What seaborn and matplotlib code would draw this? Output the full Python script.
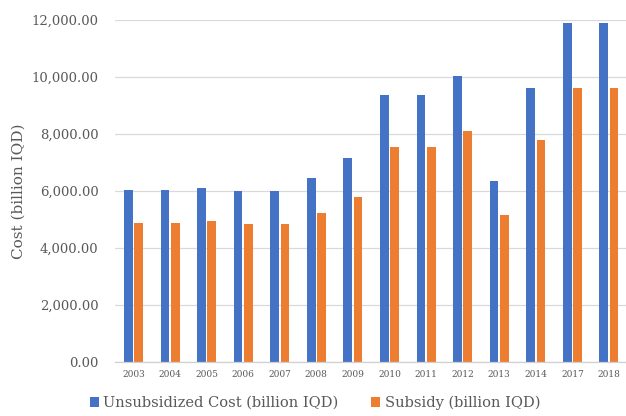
import matplotlib
matplotlib.use("Agg")
import matplotlib.pyplot as plt
import matplotlib.ticker as mticker
import seaborn as sns
import pandas as pd

years = ["2003", "2004", "2005", "2006", "2007", "2008", "2009",
         "2010", "2011", "2012", "2013", "2014", "2017", "2018"]
unsubsidized_cost = [6050, 6050, 6090, 6000, 6000, 6450, 7170,
                     9360, 9360, 10030, 6340, 9630, 11890, 11890]
subsidy = [4880, 4880, 4930, 4840, 4840, 5220, 5790,
           7550, 7550, 8100, 5140, 7780, 9610, 9610]
series_names = ["Unsubsidized Cost (billion IQD)", "Subsidy (billion IQD)"]
palette = ["#4472C4", "#ED7D31"]

df = pd.DataFrame({
    "Year": years * 2,
    "Cost": unsubsidized_cost + subsidy,
    "Series": [series_names[0]] * len(years) + [series_names[1]] * len(years),
})

sns.set_theme(style="white")
plt.rcParams["font.family"] = ["DejaVu Serif"]

text_color = "#595959"
fig = plt.figure(figsize=(6.26, 4.16), dpi=100)
ax = fig.add_axes([0.184, 0.130, 0.818, 0.822])

sns.barplot(data=df, x="Year", y="Cost", hue="Series", palette=palette,
            width=0.56, gap=0.15, linewidth=0, ax=ax, saturation=1,
            legend=True)

ax.set_ylim(0, 12000)
ax.yaxis.set_major_locator(mticker.MultipleLocator(2000))
ax.yaxis.set_major_formatter(mticker.FuncFormatter(lambda v, p: f"{v:,.2f}"))
ax.grid(axis="y", color="#D9D9D9", linewidth=0.9)
ax.set_axisbelow(True)
for s in ["top", "right", "left"]:
    ax.spines[s].set_visible(False)
ax.spines["bottom"].set_color("#D0D0D0")
ax.spines["bottom"].set_linewidth(0.9)

ax.tick_params(axis="y", labelsize=9.5, colors=text_color, length=0, pad=12)
ax.tick_params(axis="x", labelsize=6.5, colors=text_color, length=0, pad=6)
ax.set_xlabel("")
ax.set_ylabel("Cost (billion IQD)", fontsize=11, color=text_color, labelpad=4)

handles, labels = ax.get_legend_handles_labels()
ax.legend(handles, labels, loc="center", bbox_to_anchor=(0.39, -0.12),
          ncol=2, frameon=False, fontsize=10.5, handlelength=0.65,
          handleheight=0.65, handletextpad=0.3, columnspacing=2.2,
          labelcolor=text_color, borderpad=0.2)

fig.savefig("out.png", dpi=100)
